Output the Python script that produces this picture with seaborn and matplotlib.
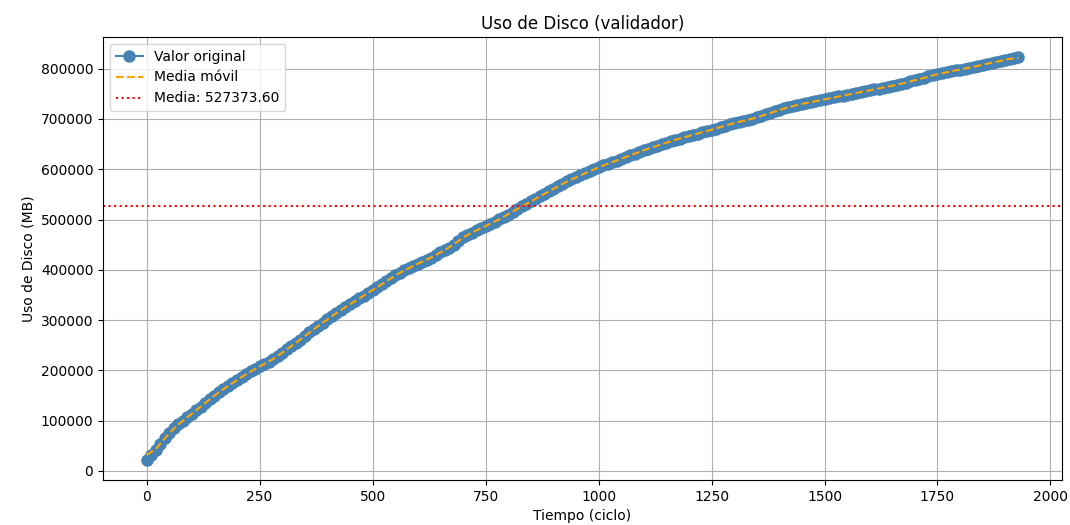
import matplotlib
matplotlib.use("Agg")
import matplotlib.pyplot as plt
import seaborn as sns
import pandas as pd

# --- data ---
ciclos = list(range(0, 1921, 10)) + [1929]
uso_disco = [
    22000, 32000, 42000, 54000, 66000, 76000, 85000, 93000, 100000, 107000,
    113000, 121000, 128000, 136000, 143000, 150000, 157000, 163000, 169000, 175000,
    180000, 187000, 193000, 198000, 203000, 208000, 212000, 217000, 222000, 228000,
    235000, 242000, 249000, 254000, 260000, 268000, 276000, 282000, 288000, 295000,
    302000, 308000, 314000, 320000, 326000, 332000, 337000, 343000, 348000, 354000,
    359000, 365000, 371000, 377000, 383000, 389000, 394000, 399000, 404000, 408000,
    412000, 416000, 420000, 424000, 429000, 435000, 440000, 444000, 449000, 458000,
    466000, 470000, 474000, 479000, 483000, 487000, 491000, 496000, 501000, 505000,
    510000, 516000, 521000, 526000, 531000, 536000, 541000, 546000, 550000, 556000,
    561000, 566000, 571000, 576000, 580000, 584000, 588000, 592000, 596000, 600000,
    604000, 608000, 611000, 614000, 617000, 621000, 624000, 628000, 631000, 635000,
    638000, 641000, 644000, 647000, 650000, 653000, 656000, 659000, 661000, 664000,
    666000, 669000, 671000, 674000, 676000, 679000, 681000, 684000, 687000, 690000,
    692000, 694000, 696000, 698000, 700000, 703000, 706000, 709000, 712000, 715000,
    718000, 721000, 723000, 726000, 728000, 730000, 732000, 734000, 735000, 737000,
    739000, 741000, 743000, 745000, 746000, 748000, 750000, 752000, 753000, 755000,
    757000, 759000, 760000, 762000, 764000, 766000, 768000, 770000, 772000, 775000,
    777000, 780000, 782000, 785000, 787000, 789000, 791000, 793000, 795000, 797000,
    798000, 800000, 802000, 804000, 806000, 808000, 810000, 812000, 814000, 816000,
    818000, 820000, 821000, 823000,
]
media_valor = 527373.60

titulo = "Uso de Disco (validador)"
etiqueta_x = "Tiempo (ciclo)"
etiqueta_y = "Uso de Disco (MB)"

df = pd.DataFrame({"ciclo": ciclos, "uso": uso_disco})
df["media_movil"] = df["uso"].rolling(window=5, center=True, min_periods=1).mean()

fig, ax = plt.subplots(figsize=(10.7, 5.25), dpi=100)
fig.subplots_adjust(left=0.0963, right=0.9925, top=0.9295, bottom=0.0857)

sns.lineplot(data=df, x="ciclo", y="uso", ax=ax, color="steelblue",
             marker="o", markersize=8, markeredgecolor="steelblue",
             markeredgewidth=1.0, linewidth=1.5, label="Valor original")
sns.lineplot(data=df, x="ciclo", y="media_movil", ax=ax, color="orange",
             linestyle="--", linewidth=1.5, label="Media móvil")
ax.axhline(media_valor, color="red", linestyle=":", linewidth=1.5,
           label=f"Media: {media_valor:.2f}")

ax.set_title(titulo)
ax.set_xlabel(etiqueta_x)
ax.set_ylabel(etiqueta_y)
ax.grid(True)
ax.legend(loc="upper left")

fig.savefig("out.png", dpi=100)
